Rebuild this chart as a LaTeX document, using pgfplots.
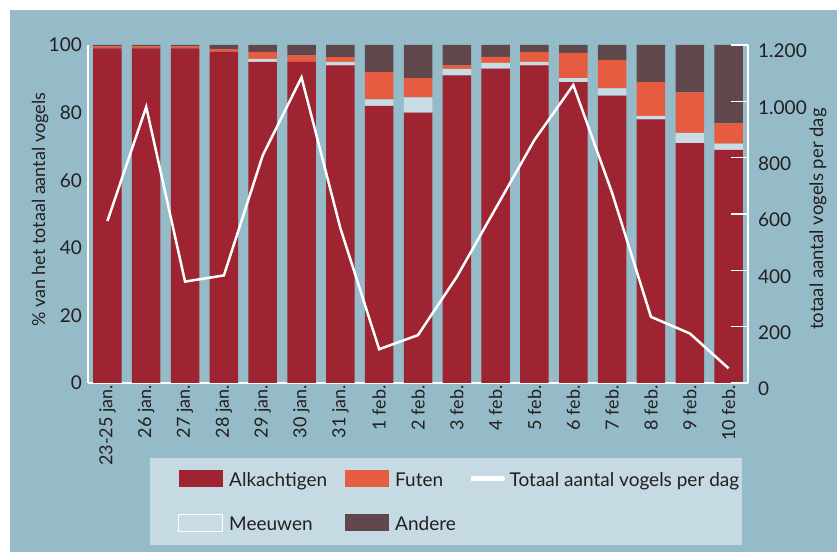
\documentclass[border=0pt]{standalone}
\usepackage{pgfplots}
\usepackage{pgfplotstable}
\pgfplotsset{compat=1.18}
\usepackage{fontspec}
\setmainfont{Lato}
\definecolor{bg}{HTML}{95BBC9}
\definecolor{legbg}{HTML}{C5DAE2}
\definecolor{alk}{HTML}{9E2431}
\definecolor{futen}{HTML}{E65C40}
\definecolor{meeuw}{HTML}{C7DCE4}
\definecolor{andere}{HTML}{5F474B}
\definecolor{txt}{HTML}{231F20}
\pgfplotsset{
  swatch/.style={legend image code/.code={\path[##1] (0bp,-8.5bp) rectangle (44bp,8.5bp);}},
  lineswatch/.style={legend image code/.code={\path (0bp,-1bp) rectangle (30bp,1bp);\draw[##1,overlay] (0bp,0bp) -- (33bp,0bp);}},
}
\pgfplotstableread{
x alk meeuw futen andere totaal
0  99 0   0.6 0.4  575
1  99 0   0.6 0.4  980
2  99 0   0.6 0.4  360
3  98 0   0.7 1.3  382
4  95 0.9 2.1 2.0  808
5  95 0   1.9 3.1  1085
6  94 1.0 1.4 3.6  550
7  82 1.9 8.1 8.0  120
8  80 4.5 5.7 9.8  170
9  91 1.9 1.1 6.0  377
10 93 1.7 1.8 3.5  620
11 94 1.0 3.0 2.0  863
12 89 1.2 7.5 2.3  1058
13 85 2.2 8.4 4.4  675
14 78 1.0 10  11   235
15 71 3.0 12  14   176
16 69 1.8 6.0 23.2 52
}\datatable
\begin{document}
\begin{tikzpicture}[font=\fontsize{19bp}{22bp}\selectfont]
\path[use as bounding box, fill=white] (0bp,0bp) rectangle (837bp,552bp);
\fill[bg] (10bp,0bp) rectangle (837bp,542bp);
\fill[legbg] (150bp,7bp) rectangle (742bp,94bp);
\begin{axis}[
  at={(88bp,169bp)}, anchor=south west, scale only axis,
  width=660bp, height=338bp,
  xmin=-0.5, xmax=16.5, ymin=0, ymax=100,
  ybar stacked, bar width=28.5bp,
  axis x line*=bottom, axis y line*=left,
  axis line style={draw=white, line width=1.5bp},
  xtick={0,...,16},
  xticklabels={23-25 jan.,26 jan.,27 jan.,28 jan.,29 jan.,30 jan.,31 jan.,1 feb.,2 feb.,3 feb.,4 feb.,5 feb.,6 feb.,7 feb.,8 feb.,9 feb.,10 feb.},
  x tick label style={rotate=90, anchor=east, text=txt, inner sep=2bp, font=\fontsize{18bp}{20bp}\selectfont},
  ytick={0,20,40,60,80,100},
  yticklabels={0,20,40,60,80,100},
  y tick label style={text=txt, inner sep=2bp, xshift=-4bp},
  major tick length=0pt,
  tick style={draw=none},
  ylabel={\% van het totaal aantal vogels},
  ylabel style={at={(axis description cs:-0.0727,0.512)}, anchor=center, text=txt, font=\fontsize{18bp}{20bp}\selectfont},
]
\addplot[fill=alk, draw=none] table[x=x,y=alk]{\datatable};
\addplot[fill=meeuw, draw=none] table[x=x,y=meeuw]{\datatable};
\addplot[fill=futen, draw=none] table[x=x,y=futen]{\datatable};
\addplot[fill=andere, draw=none] table[x=x,y=andere]{\datatable};
\end{axis}
\begin{axis}[
  at={(88bp,169bp)}, anchor=south west, scale only axis,
  width=660bp, height=338bp,
  xmin=-0.5, xmax=16.5, ymin=0, ymax=1200,
  axis x line=none, axis y line*=right,
  axis line style={draw=white, line width=1.5bp},
  ytick={0,200,400,600,800,1000,1200},
  yticklabels={0,200,400,600,800,1.000,1.200},
  y tick label style={text=txt, yshift=-6bp, inner sep=2bp, xshift=8bp},
  tick align=inside, major tick length=17bp,
  tick style={draw=white, line width=1.2bp},
  ylabel={totaal aantal vogels per dag},
  ylabel style={at={(axis description cs:1.106,0.485)}, anchor=center, rotate=0, text=txt, font=\fontsize{18.5bp}{20bp}\selectfont},
  legend columns=3,
  legend cell align=left,
  legend style={at={(0.13636,-0.2574)}, anchor=north west, draw=none, fill=none,
    inner sep=0pt, row sep=26.5bp,
    /tikz/every odd column/.append style={column sep=6bp},
    nodes={inner sep=0pt, anchor=base west, yshift=-8bp, text height=8bp, text depth=0bp, text=txt}},
]
\addlegendimage{swatch, fill=alk, draw=none}
\addlegendentry{\makebox[116bp][l]{Alkachtigen}}
\addlegendimage{swatch, fill=futen, draw=none}
\addlegendentry{\makebox[76bp][l]{Futen}}
\addplot[draw=white, line width=2.5bp, mark=none, lineswatch] table[x=x,y=totaal]{\datatable};
\addlegendentry{Totaal aantal vogels per dag}
\addlegendimage{swatch, fill=meeuw, draw=white, line width=1bp}
\addlegendentry{\makebox[116bp][l]{Meeuwen}}
\addlegendimage{swatch, fill=andere, draw=none}
\addlegendentry{\makebox[76bp][l]{Andere}}
\end{axis}
\end{tikzpicture}
\end{document}
